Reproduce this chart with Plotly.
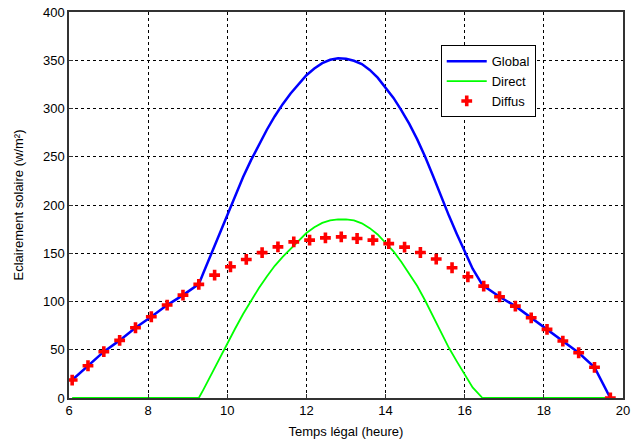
import plotly.graph_objects as go

# Diffuse irradiance samples (hour, W/m²)
t_diffus = [6.08, 6.48, 6.88, 7.28, 7.68, 8.08, 8.48, 8.88, 9.28, 9.68,
            10.08, 10.48, 10.88, 11.28, 11.68, 12.08, 12.48, 12.88, 13.28, 13.68,
            14.08, 14.48, 14.88, 15.28, 15.68, 16.08, 16.48, 16.88, 17.28, 17.68,
            18.08, 18.48, 18.88, 19.28, 19.68]
diffus = [18.6, 33.4, 48, 59.7, 72.8, 84.2, 96.3, 106.6, 117.7, 127.3,
          136, 143.6, 150.6, 156.6, 161.8, 163.6, 165.9, 167, 165.3, 163.6,
          160, 156.3, 150.8, 144, 135, 125.6, 115.9, 104.9, 95.2, 83.1,
          71.1, 59, 46.9, 31.8, 0]

# Global / Direct curves (hour, W/m²)
t_curve = [6.08, 6.48, 6.88, 7.28, 7.68, 8.08, 8.48, 8.88,
           9.28, 9.4, 9.6, 9.8, 10.0, 10.2, 10.4, 10.6, 10.8, 11.0, 11.2, 11.4,
           11.6, 11.8, 12.0, 12.2, 12.4, 12.6, 12.8, 13.0, 13.2, 13.4, 13.6, 13.8,
           14.0, 14.2, 14.4, 14.6, 14.8, 15.0, 15.2, 15.4, 15.6, 15.8, 16.0, 16.2,
           16.45, 16.88, 17.28, 17.68, 18.08, 18.48, 18.88, 19.28, 19.68]
global_ = [18.6, 33.4, 48, 59.7, 72.8, 84.2, 96.3, 106.6,
           118, 130, 150, 170, 190, 210, 229, 246.5, 263, 278, 292, 304.5,
           315.5, 325.5, 334.5, 341.5, 347, 350.5, 352, 351.5, 349.5, 346, 340, 332,
           322, 311, 298, 284, 268, 250, 230, 209, 189, 170, 152, 134,
           117, 104.9, 95.2, 83.1, 71.1, 59, 46.9, 31.8, 0]
direct = [0, 0, 0, 0, 0, 0, 0, 0,
          0, 9, 25, 40, 56, 72, 87, 101, 114, 126, 137, 146.3,
          154.7, 163, 171, 177, 181.5, 184, 185, 185, 184, 181, 176, 169.5,
          161, 152, 141, 129, 116, 101, 85, 68, 52, 38, 24.5, 11,
          0, 0, 0, 0, 0, 0, 0, 0, 0]

x_ticks = [6, 8, 10, 12, 14, 16, 18, 20]
y_ticks = [0, 50, 100, 150, 200, 250, 300, 350, 400]

fig = go.Figure()
fig.add_trace(go.Scatter(x=t_curve, y=global_, mode="lines", name="Global",
                         line=dict(color="#0000FF", width=2.5)))
fig.add_trace(go.Scatter(x=t_curve, y=direct, mode="lines", name="Direct",
                         line=dict(color="#00FF00", width=1.8)))
fig.add_trace(go.Scatter(x=t_diffus, y=diffus, mode="markers", name="Diffus",
                         marker=dict(symbol="cross", color="#FF0000", size=9,
                                     line=dict(width=0))))

axis_common = dict(showline=True, linecolor="#333333", linewidth=1.5, mirror=True,
                   showgrid=True, gridcolor="black", griddash="3px,3px", gridwidth=1,
                   ticks="inside", ticklen=4, tickcolor="#333333", zeroline=False,
                   automargin=False,
                   tickfont=dict(size=13, color="black"))

fig.update_xaxes(range=[6, 20], tickvals=x_ticks,
                 title=dict(text="Temps légal (heure)", font=dict(size=13, color="black"),
                            standoff=10),
                 **axis_common)
fig.update_yaxes(range=[0, 400], tickvals=y_ticks,
                 title=dict(text="Eclairement solaire (w/m²)", font=dict(size=13, color="black"),
                            standoff=16),
                 **axis_common)

fig.update_layout(
    width=631, height=446,
    margin=dict(l=69, r=8, t=12, b=48, autoexpand=False),
    paper_bgcolor="white", plot_bgcolor="white",
    font=dict(family="Liberation Sans, Arial, sans-serif", color="black"),
    showlegend=True,
    legend=dict(x=0.671, y=0.914, xanchor="left", yanchor="top",
                bgcolor="white", bordercolor="black", borderwidth=1,
                font=dict(size=13, color="black"), itemwidth=40,
                tracegroupgap=2),
)

fig.write_html("out.html", config={"displayModeBar": False},
               post_script="document.body.style.margin='0px';document.body.style.overflow='hidden';")
